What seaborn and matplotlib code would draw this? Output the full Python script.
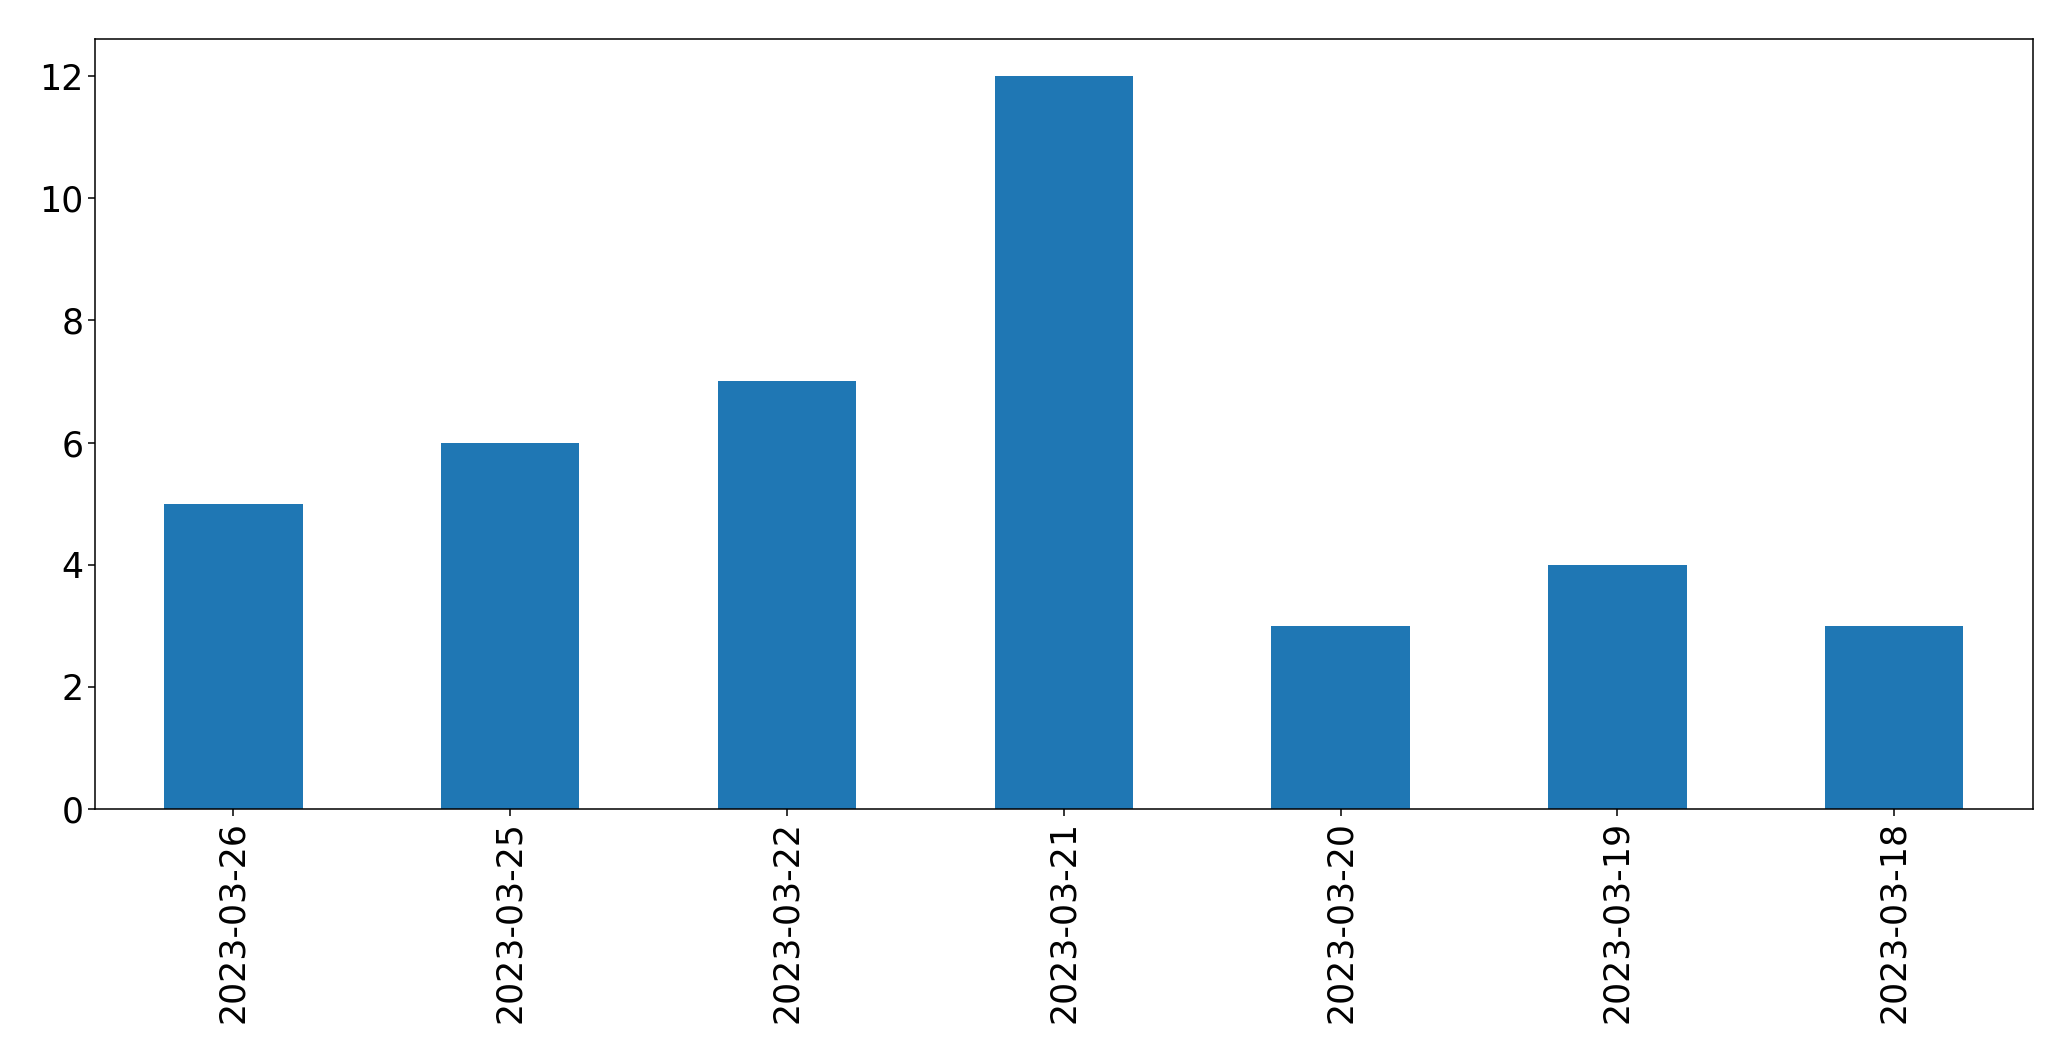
import pandas as pd
import matplotlib
matplotlib.use("Agg")
import matplotlib.pyplot as plt
import seaborn as sns

dates = ["2023-03-26", "2023-03-25", "2023-03-22", "2023-03-21",
         "2023-03-20", "2023-03-19", "2023-03-18"]
counts = [5, 6, 7, 12, 3, 4, 3]

df = pd.DataFrame({"date": dates, "count": counts})

fig = plt.figure(figsize=(20.71, 10.61), dpi=100)
ax = fig.add_axes([0.0459, 0.2375, 0.9356, 0.7253])

sns.barplot(data=df, x="date", y="count", order=dates, color="#1f77b4",
            saturation=1, width=0.5, linewidth=0, ax=ax)

ax.set_xlim(-0.5, len(dates) - 0.5)
ax.set_ylim(0, max(counts) * 1.05)
ax.set_xlabel("")
ax.set_ylabel("")
ax.tick_params(axis="both", labelsize=25, length=5, width=1.1, pad=3.5)
ax.tick_params(axis="x", labelrotation=90)
for s in ax.spines.values():
    s.set_linewidth(1.1)

fig.savefig("out.png", dpi=100)
